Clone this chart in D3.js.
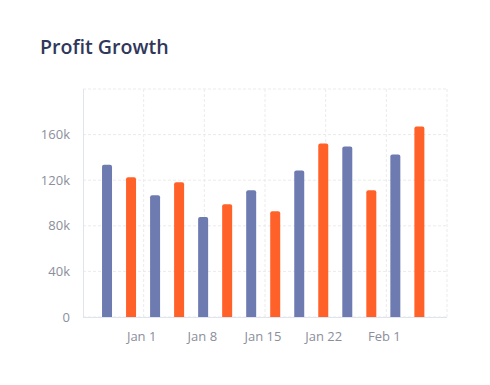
<!DOCTYPE html>
<html>
<head>
<meta charset="utf-8">
<script src="https://cdn.jsdelivr.net/npm/d3@7"></script>
<style>
  body { margin: 0; background: #fff; }
  svg { display: block; font-family: 'Open Sans', sans-serif; }
</style>
</head>
<body>
<svg id="chart" width="490" height="385"></svg>
<script>
// bar values, alternating series
const profits = [133.5, 122.5, 106.7, 118.1, 87.8, 98.9, 111.1, 92.8, 128.6, 152.1, 149.5, 111.1, 142.6, 167];
const barColors = ['#6e7bb1', '#ff6129'];
const xTickLabels = ['Jan 1', 'Jan 8', 'Jan 15', 'Jan 22', 'Feb 1'];
const yTicks = [0, 40, 80, 120, 160];

const margin = { top: 89, right: 43, bottom: 68, left: 83 };
const width = 490 - margin.left - margin.right;
const height = 385 - margin.top - margin.bottom;

const svg = d3.select('#chart');

svg.append('text')
  .attr('x', 40)
  .attr('y', 54)
  .attr('fill', '#30375a')
  .attr('font-size', 19.6)
  .attr('font-weight', 600)
  .text('Profit Growth');

const g = svg.append('g').attr('transform', `translate(${margin.left},${margin.top})`);

const x = d3.scaleLinear().domain([-1, profits.length + 0.15]).range([0, width]);
const y = d3.scaleLinear().domain([0, 200]).range([height, 0]);
// gridline columns split the plot evenly, labels sit on the inner lines
const cols = d3.scaleLinear().domain([0, xTickLabels.length + 1]).range([0, width]);

// horizontal grid
g.selectAll('.hgrid')
  .data(yTicks.concat([200]))
  .enter().append('line')
    .attr('x1', 0).attr('x2', width)
    .attr('y1', d => y(d)).attr('y2', d => y(d))
    .attr('stroke', '#ebebeb')
    .attr('stroke-dasharray', '3,2');

// vertical grid
g.selectAll('.vgrid')
  .data(d3.range(1, xTickLabels.length + 2))
  .enter().append('line')
    .attr('x1', d => cols(d)).attr('x2', d => cols(d))
    .attr('y1', 0).attr('y2', height)
    .attr('stroke', '#ebebeb')
    .attr('stroke-dasharray', '3,2');

// axis lines
g.append('line').attr('x1', 0.5).attr('x2', 0.5).attr('y1', 0).attr('y2', height).attr('stroke', '#e0e4ef');
g.append('line').attr('x1', 0).attr('x2', width).attr('y1', height + 0.5).attr('y2', height + 0.5).attr('stroke', '#e0e4ef');

// y labels
g.selectAll('.ylabel')
  .data(yTicks)
  .enter().append('text')
    .attr('x', -13)
    .attr('y', d => y(d))
    .attr('dy', '0.35em')
    .attr('text-anchor', 'end')
    .attr('fill', '#8b8e9b')
    .attr('font-size', 13)
    .text(d => d === 0 ? '0' : d + 'k');

// x labels
g.selectAll('.xlabel')
  .data(xTickLabels)
  .enter().append('text')
    .attr('x', (d, i) => cols(i + 1) - 2)
    .attr('y', height + 24)
    .attr('text-anchor', 'middle')
    .attr('fill', '#8b8e9b')
    .attr('font-size', 13)
    .text(d => d);

// bars with rounded tops
const barW = 10;
const r = 2;
g.selectAll('.bar')
  .data(profits)
  .enter().append('path')
    .attr('fill', (d, i) => barColors[i % 2])
    .attr('d', (d, i) => {
      const x0 = x(i) - barW / 2;
      const x1 = x0 + barW;
      const top = y(d);
      const bottom = y(0);
      return `M${x0},${bottom}V${top + r}Q${x0},${top} ${x0 + r},${top}H${x1 - r}Q${x1},${top} ${x1},${top + r}V${bottom}Z`;
    });
</script>
</body>
</html>
